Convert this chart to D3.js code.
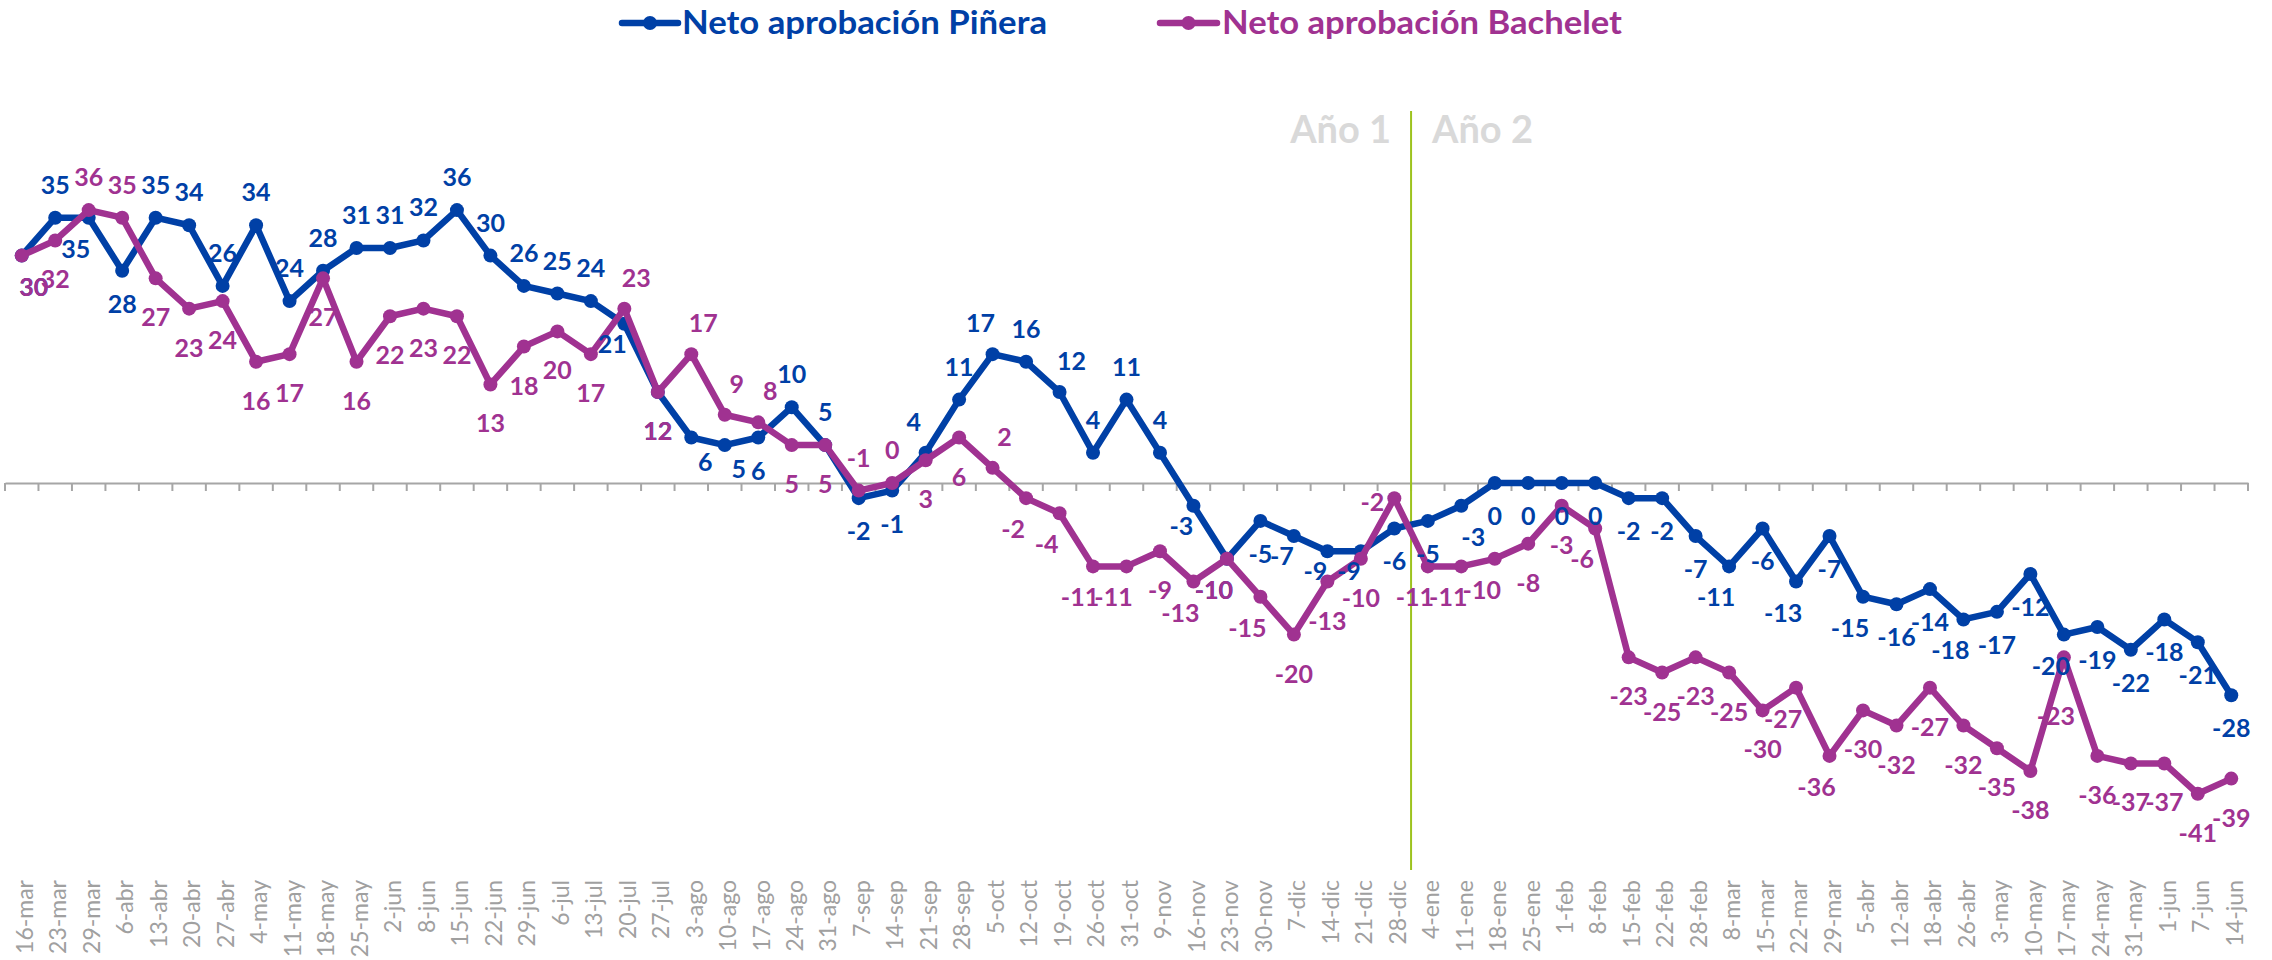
<!DOCTYPE html>
<html>
<head>
<meta charset="utf-8">
<script src="https://cdn.jsdelivr.net/npm/d3@7"></script>
<style>
  html, body { margin: 0; padding: 0; background: #ffffff; }
  svg { display: block; }
</style>
</head>
<body>
<svg id="chart" width="2272" height="960"></svg>
<script>
// ---------------- DATA ----------------
const categories = ["16-mar","23-mar","29-mar","6-abr","13-abr","20-abr","27-abr","4-may","11-may","18-may","25-may","2-jun","8-jun","15-jun","22-jun","29-jun","6-jul","13-jul","20-jul","27-jul","3-ago","10-ago","17-ago","24-ago","31-ago","7-sep","14-sep","21-sep","28-sep","5-oct","12-oct","19-oct","26-oct","31-oct","9-nov","16-nov","23-nov","30-nov","7-dic","14-dic","21-dic","28-dic","4-ene","11-ene","18-ene","25-ene","1-feb","8-feb","15-feb","22-feb","28-feb","8-mar","15-mar","22-mar","29-mar","5-abr","12-abr","18-abr","26-abr","3-may","10-may","17-may","24-may","31-may","1-jun","7-jun","14-jun"];

const pinera = [30,35,35,28,35,34,26,34,24,28,31,31,32,36,30,26,25,24,21,12,6,5,6,10,5,-2,-1,4,11,17,16,12,4,11,4,-3,-10,-5,-7,-9,-9,-6,-5,-3,0,0,0,0,-2,-2,-7,-11,-6,-13,-7,-15,-16,-14,-18,-17,-12,-20,-19,-22,-18,-21,-28];

const bachelet = [30,32,36,35,27,23,24,16,17,27,16,22,23,22,13,18,20,17,23,12,17,9,8,5,5,-1,0,3,6,2,-2,-4,-11,-11,-9,-13,-10,-15,-20,-13,-10,-2,-11,-11,-10,-8,-3,-6,-23,-25,-23,-25,-30,-27,-36,-30,-32,-27,-32,-35,-38,-23,-36,-37,-37,-41,-39];

const seriesNames = ["Neto aprobación Piñera", "Neto aprobación Bachelet"];
const yearLabels = ["Año 1", "Año 2"];
const yearStartIndex = 42; // first week of "Año 2" (4-ene)

// label placement codes (style, not data)
const pineraPos = ["br","a","bl","b","a","a","a","a","a","a","a","a","a","a","a","a","a","a","bls","bm","brs","brs","b","a","a","b","b","al","a","al","a","ar","a","a","a","bls","bl","b","bls","bls","bls","b","b","br","b","b","b","b","b","b","b","bl","b","bl","b","bl","b","b","bl","b","b","bl","b","b","b","b","b"];
const bacheletPos = ["br","b","a","a","b","b","b","b","b","b","b","b","b","b","b","b","b","b","ar","b","ar","ar","ar","b","b","a","a","b","b","ar","bl","bl","bl","bl","b","bl","bl","bl","b","b","b","l","bl","bl","bl","b","b","bl","b","b","b","b","b","bl","bl","b","b","b","b","b","b","bb","b","b","b","b","b"];

// ---------------- STYLE ----------------
const W = 2272, H = 960;
const colBlue = "#0040a6";
const colMag = "#a03291";
const baseOffsets = {
  a: [0, -33], al: [-12, -31], ar: [12, -31],
  bl: [-13, 31], br: [12, 31], bls: [-12, 20], brs: [14, 24], bm: [0, 39],
  l: [-22, 4], bb: [-8, 59]
};

const svg = d3.select("#chart");
svg.append("rect").attr("width", W).attr("height", H).attr("fill", "#fff");

const idx = d3.range(categories.length);
const x = d3.scaleBand().domain(idx).range([5, 2248]).paddingInner(0).paddingOuter(0);
const cx = i => x(i) + x.bandwidth() / 2;
const y = d3.scaleLinear().domain([-41, 36]).range([483 + 41 * 7.58, 483 - 36 * 7.58]);

// zero axis line with ticks at category boundaries
const y0 = y(0);
const axisG = svg.append("g").attr("transform", `translate(0,${y0})`);
axisG.call(d3.axisBottom(x).tickSize(0).tickFormat("").tickSizeOuter(0));
axisG.select(".domain").attr("stroke", "#a6a6a6").attr("stroke-width", 2);
const bounds = idx.map(i => x(i)).concat([x(idx[idx.length - 1]) + x.bandwidth()]);
axisG.selectAll("line.btick").data(bounds).join("line")
  .attr("class", "btick")
  .attr("x1", d => d).attr("x2", d => d)
  .attr("y1", 0).attr("y2", 8)
  .attr("stroke", "#a6a6a6").attr("stroke-width", 2);

// category labels at bottom
const labAxis = svg.append("g").attr("transform", "translate(0,880)")
  .call(d3.axisBottom(x).tickSize(0).tickFormat(i => categories[i]));
labAxis.select(".domain").remove();
labAxis.selectAll(".tick text")
  .attr("transform", "translate(3,0) rotate(-90)")
  .attr("x", 0).attr("y", 0).attr("dy", "0.36em")
  .attr("text-anchor", "end")
  .attr("fill", "#a0a0a0")
  .style("font-family", "Lato, 'Open Sans', sans-serif")
  .style("font-size", "23px");

// year divider
const divX = x(yearStartIndex);
svg.append("line")
  .attr("x1", divX).attr("x2", divX).attr("y1", 111).attr("y2", 870)
  .attr("stroke", "#9dc31e").attr("stroke-width", 2);
svg.append("text").text(yearLabels[0])
  .attr("x", divX - 20).attr("y", 143).attr("text-anchor", "end")
  .attr("fill", "#d9d9d9").style("font-family", "Lato, sans-serif")
  .style("font-weight", "bold").style("font-size", "38px");
svg.append("text").text(yearLabels[1])
  .attr("x", divX + 21).attr("y", 143).attr("text-anchor", "start")
  .attr("fill", "#d9d9d9").style("font-family", "Lato, sans-serif")
  .style("font-weight", "bold").style("font-size", "38px");

// series
const series = [
  { name: seriesNames[0], values: pinera, pos: pineraPos, color: colBlue, below: 33 },
  { name: seriesNames[1], values: bachelet, pos: bacheletPos, color: colMag, below: 39 }
];

const line = d3.line().x((d, i) => cx(i)).y(d => y(d));

series.forEach(s => {
  svg.append("path").datum(s.values)
    .attr("d", line)
    .attr("fill", "none").attr("stroke", s.color)
    .attr("stroke-width", 6.5).attr("stroke-linejoin", "round").attr("stroke-linecap", "round");
  svg.append("g").selectAll("circle").data(s.values).join("circle")
    .attr("cx", (d, i) => cx(i)).attr("cy", d => y(d))
    .attr("r", 7).attr("fill", s.color);
});

function off(s, i) {
  const code = s.pos[i];
  if (code === "b") return [0, s.below];
  return baseOffsets[code];
}

series.forEach(s => {
  svg.append("g").selectAll("text").data(s.values).join("text")
    .attr("x", (d, i) => cx(i) + off(s, i)[0])
    .attr("y", (d, i) => y(d) + off(s, i)[1] + 9)
    .attr("text-anchor", "middle")
    .attr("fill", s.color)
    .style("font-family", "Lato, sans-serif")
    .style("font-weight", "bold")
    .style("font-size", "25px")
    .text(d => d);
});

// legend
const legendItems = [
  { name: seriesNames[0], color: colBlue, x0: 622, x1: 678, tx: 682, tw: 365 },
  { name: seriesNames[1], color: colMag, x0: 1160, x1: 1217, tx: 1222, tw: 400 }
];
const lg = svg.append("g");
legendItems.forEach(it => {
  lg.append("line").attr("x1", it.x0).attr("x2", it.x1).attr("y1", 23).attr("y2", 23)
    .attr("stroke", it.color).attr("stroke-width", 6.5).attr("stroke-linecap", "round");
  lg.append("circle").attr("cx", (it.x0 + it.x1) / 2).attr("cy", 23).attr("r", 7).attr("fill", it.color);
  lg.append("text").text(it.name)
    .attr("x", it.tx).attr("y", 34)
    .attr("fill", it.color)
    .attr("textLength", it.tw).attr("lengthAdjust", "spacingAndGlyphs")
    .style("font-family", "Lato, sans-serif").style("font-weight", "bold").style("font-size", "33px");
});
</script>
</body>
</html>
